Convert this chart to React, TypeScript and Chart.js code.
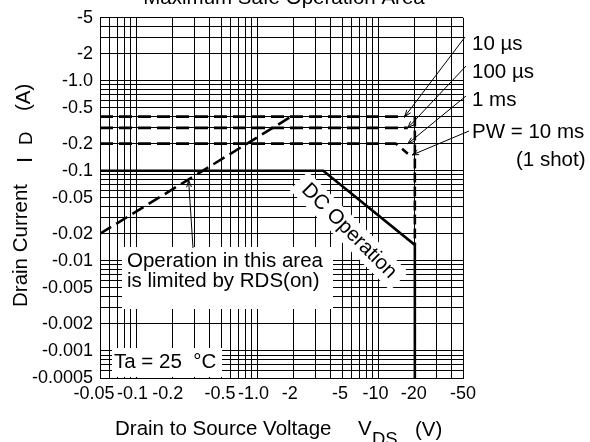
import React, { useEffect, useRef } from 'react';
import { Chart, registerables } from 'chart.js';

Chart.register(...registerables);

const FONT = '"Liberation Sans", Arial, Helvetica, sans-serif';

// ---- axes (magnitudes are plotted; printed labels carry the minus sign) ----
const xTickValues = [0.05, 0.1, 0.2, 0.5, 1, 2, 5, 10, 20, 50];
const xTickLabels = ['-0.05', '-0.1', '-0.2', '-0.5', '-1.0', '-2', '-5', '-10', '-20', '-50'];
const yTickValues = [5, 2, 1, 0.5, 0.2, 0.1, 0.05, 0.02, 0.01, 0.005, 0.002, 0.001, 0.0005];
const yTickLabels = ['-5', '-2', '-1.0', '-0.5', '-0.2', '-0.1', '-0.05', '-0.02', '-0.01', '-0.005', '-0.002', '-0.001', '-0.0005'];

// ---- series: |V_DS| (V) vs |I_D| (A) ----
const rdsLimitV = [0.05, 1.9];
const rdsLimitI = [0.02, 0.4];
const pw10usV = [0.05, 16.5];
const pw10usI = [0.4, 0.4];
const pw100usV = [0.05, 17.5];
const pw100usI = [0.3, 0.3];
const pw1msV = [0.05, 14];
const pw1msI = [0.2, 0.2];
const pw10msV = [0.05, 14, 17.5];
const pw10msI = [0.2, 0.2, 0.155];
const vdssPulseV = [20, 20];
const vdssPulseI = [0.4, 0.015];
const dcV = [0.05, 3.5, 20, 20];
const dcI = [0.1, 0.1, 0.015, 0.0005];

// arrow targets (data space)
const tip10us = [16.5, 0.4];
const tip100us = [17.5, 0.3];
const tip1ms = [17.5, 0.2];
const tip10ms = [19, 0.15];
const tipRds = [0.27, 0.08];

// label nudges for the x tick row (px), as typeset in the original
const xLabelNudge = [-6, -4, -5, -1, -4, -4, -2, -3, -1, 0];

function logGrid(min: number, max: number): number[] {
  const out: number[] = [];
  for (let e = Math.floor(Math.log10(min)); e <= Math.ceil(Math.log10(max)); e++) {
    for (let k = 1; k <= 9; k++) {
      const v = parseFloat((k * Math.pow(10, e)).toPrecision(6));
      if (v >= min * 0.999 && v <= max * 1.001) out.push(v);
    }
  }
  return out;
}

const pts = (xs: number[], ys: number[]) => xs.map((x, i) => ({ x, y: ys[i] }));

function arrow(ctx: CanvasRenderingContext2D, x1: number, y1: number, x2: number, y2: number, size = 7) {
  const a = Math.atan2(y2 - y1, x2 - x1);
  ctx.beginPath();
  ctx.moveTo(x1, y1);
  ctx.lineTo(x2, y2);
  ctx.moveTo(x2 - size * Math.cos(a - 0.35), y2 - size * Math.sin(a - 0.35));
  ctx.lineTo(x2, y2);
  ctx.lineTo(x2 - size * Math.cos(a + 0.35), y2 - size * Math.sin(a + 0.35));
  ctx.stroke();
}

const annotate = {
  id: 'annotate',
  beforeDatasetsDraw(chart: any) {
    const { ctx, chartArea } = chart;
    ctx.save();
    ctx.fillStyle = '#fff';
    ctx.fillRect(122, 247, 211, 62);
    ctx.fillRect(112, 348, 110, chartArea.bottom - 1 - 348);
    ctx.translate(349, 231);
    ctx.rotate(Math.PI / 4);
    ctx.fillRect(-71, -13, 142, 26);
    ctx.restore();
  },
  afterDatasetsDraw(chart: any) {
    const { ctx } = chart;
    const xs = chart.scales.x;
    const ys = chart.scales.y;
    const px = (p: number[]) => [xs.getPixelForValue(p[0]), ys.getPixelForValue(p[1])];
    ctx.save();
    ctx.fillStyle = '#000';
    ctx.strokeStyle = '#000';
    ctx.lineWidth = 1;
    ctx.textBaseline = 'alphabetic';

    // x tick labels
    ctx.font = `18px ${FONT}`;
    ctx.textAlign = 'center';
    xTickValues.forEach((v, i) => {
      ctx.fillText(xTickLabels[i], xs.getPixelForValue(v) + xLabelNudge[i], 399);
    });

    ctx.font = `20.5px ${FONT}`;
    // title (partly above the page edge)
    ctx.textAlign = 'center';
    ctx.fillText('Maximum Safe Operation Area', 284, 4);
    ctx.textAlign = 'left';

    // pulse labels
    ctx.fillText('10 µs', 472, 50);
    ctx.fillText('100 µs', 472, 78);
    ctx.fillText('1 ms', 472, 106);
    ctx.fillText('PW = 10 ms', 472, 138);
    ctx.fillText('(1 shot)', 516, 166);
    let t = px(tip10us); arrow(ctx, 465, 37, t[0], t[1]);
    t = px(tip100us); arrow(ctx, 466, 66, t[0], t[1]);
    t = px(tip1ms); arrow(ctx, 466, 96, t[0], t[1]);
    t = px(tip10ms); arrow(ctx, 469, 131, t[0], t[1]);

    // RDS(on) note
    ctx.fillText('Operation in this area', 127, 267);
    ctx.fillText('is limited by RDS(on)', 127, 287);
    t = px(tipRds); arrow(ctx, 193, 248, t[0], t[1] + 1);

    // Ta
    ctx.fillText('Ta = 25  °C', 114, 368);

    // DC Operation (rotated)
    ctx.save();
    ctx.translate(349, 231);
    ctx.rotate(Math.PI / 4);
    ctx.textAlign = 'center';
    ctx.textBaseline = 'middle';
    ctx.fillText('DC Operation', 0, 0);
    ctx.restore();

    // x axis title
    ctx.fillText('Drain to Source Voltage', 115, 435);
    ctx.fillText('V', 358, 435);
    ctx.fillText('(V)', 415, 436);
    ctx.font = `18.5px ${FONT}`;
    ctx.fillText('DS', 372, 445);

    // y axis title (rotated)
    const vtext = (s: string, size: number, x: number, y: number) => {
      ctx.save();
      ctx.font = `${size}px ${FONT}`;
      ctx.translate(x, y);
      ctx.rotate(-Math.PI / 2);
      ctx.textAlign = 'left';
      ctx.fillText(s, 0, 0);
      ctx.restore();
    };
    vtext('Drain Current', 20.5, 27, 307);
    vtext('I', 22, 32, 163);
    vtext('D', 18.5, 32, 145);
    vtext('(A)', 20.5, 30, 111);

    ctx.restore();
  },
};

export default function App() {
  const ref = useRef<HTMLCanvasElement>(null);
  useEffect(() => {
    const xGrid = logGrid(0.05, 50);
    const yGrid = logGrid(0.0005, 5);
    const dashed = { borderDash: [13, 6], borderWidth: 2.6 };
    const common = { showLine: true, pointRadius: 0, borderColor: '#000', fill: false, tension: 0, borderCapStyle: 'butt' };
    const chart = new Chart(ref.current as HTMLCanvasElement, {
      type: 'scatter',
      data: {
        datasets: [
          { ...common, ...dashed, label: 'RDS(on) limit', data: pts(rdsLimitV, rdsLimitI) },
          { ...common, ...dashed, label: '10 µs', data: pts(pw10usV, pw10usI) },
          { ...common, ...dashed, label: '100 µs', data: pts(pw100usV, pw100usI) },
          { ...common, ...dashed, label: '1 ms', data: pts(pw1msV, pw1msI) },
          { ...common, ...dashed, label: '10 ms', data: pts(pw10msV, pw10msI) },
          { ...common, borderDash: [10, 4], borderWidth: 2.6, label: 'VDSS pulse', data: pts(vdssPulseV, vdssPulseI) },
          { ...common, borderWidth: 2.6, label: 'DC Operation', data: pts(dcV, dcI) },
        ] as any,
      },
      options: {
        animation: false,
        responsive: false,
        devicePixelRatio: 1,
        events: [],
        layout: { padding: { top: 17, right: 127, bottom: 0, left: 0 } },
        plugins: { legend: { display: false }, tooltip: { enabled: false }, title: { display: false } },
        scales: {
          x: {
            type: 'logarithmic',
            min: 0.05,
            max: 50,
            afterBuildTicks: (s: any) => { s.ticks = xGrid.map((v) => ({ value: v })); },
            afterFit: (s: any) => { s.height = 64; },
            ticks: { display: false, autoSkip: false, maxRotation: 0 },
            grid: { color: '#000', lineWidth: 1, drawTicks: false },
            border: { display: true, color: '#000', width: 1 },
          },
          y: {
            type: 'logarithmic',
            min: 0.0005,
            max: 5,
            afterBuildTicks: (s: any) => { s.ticks = yGrid.map((v) => ({ value: v })); },
            afterFit: (s: any) => { s.width = 100; },
            ticks: {
              autoSkip: false,
              padding: 7,
              color: '#000',
              font: { family: FONT, size: 18 },
              callback: (value: any) => {
                const i = yTickValues.findIndex((t) => Math.abs(t - Number(value)) / t < 1e-6);
                return i >= 0 ? yTickLabels[i] : '';
              },
            },
            grid: { color: '#000', lineWidth: 1, drawTicks: false },
            border: { display: true, color: '#000', width: 1 },
          },
        },
      } as any,
      plugins: [annotate],
    });
    return () => chart.destroy();
  }, []);
  return (
    <div style={{ position: 'fixed', left: 0, top: 0, width: 590, height: 442, background: '#fff' }}>
      <canvas ref={ref} width={590} height={442} style={{ display: 'block', width: 590, height: 442 }} />
    </div>
  );
}
